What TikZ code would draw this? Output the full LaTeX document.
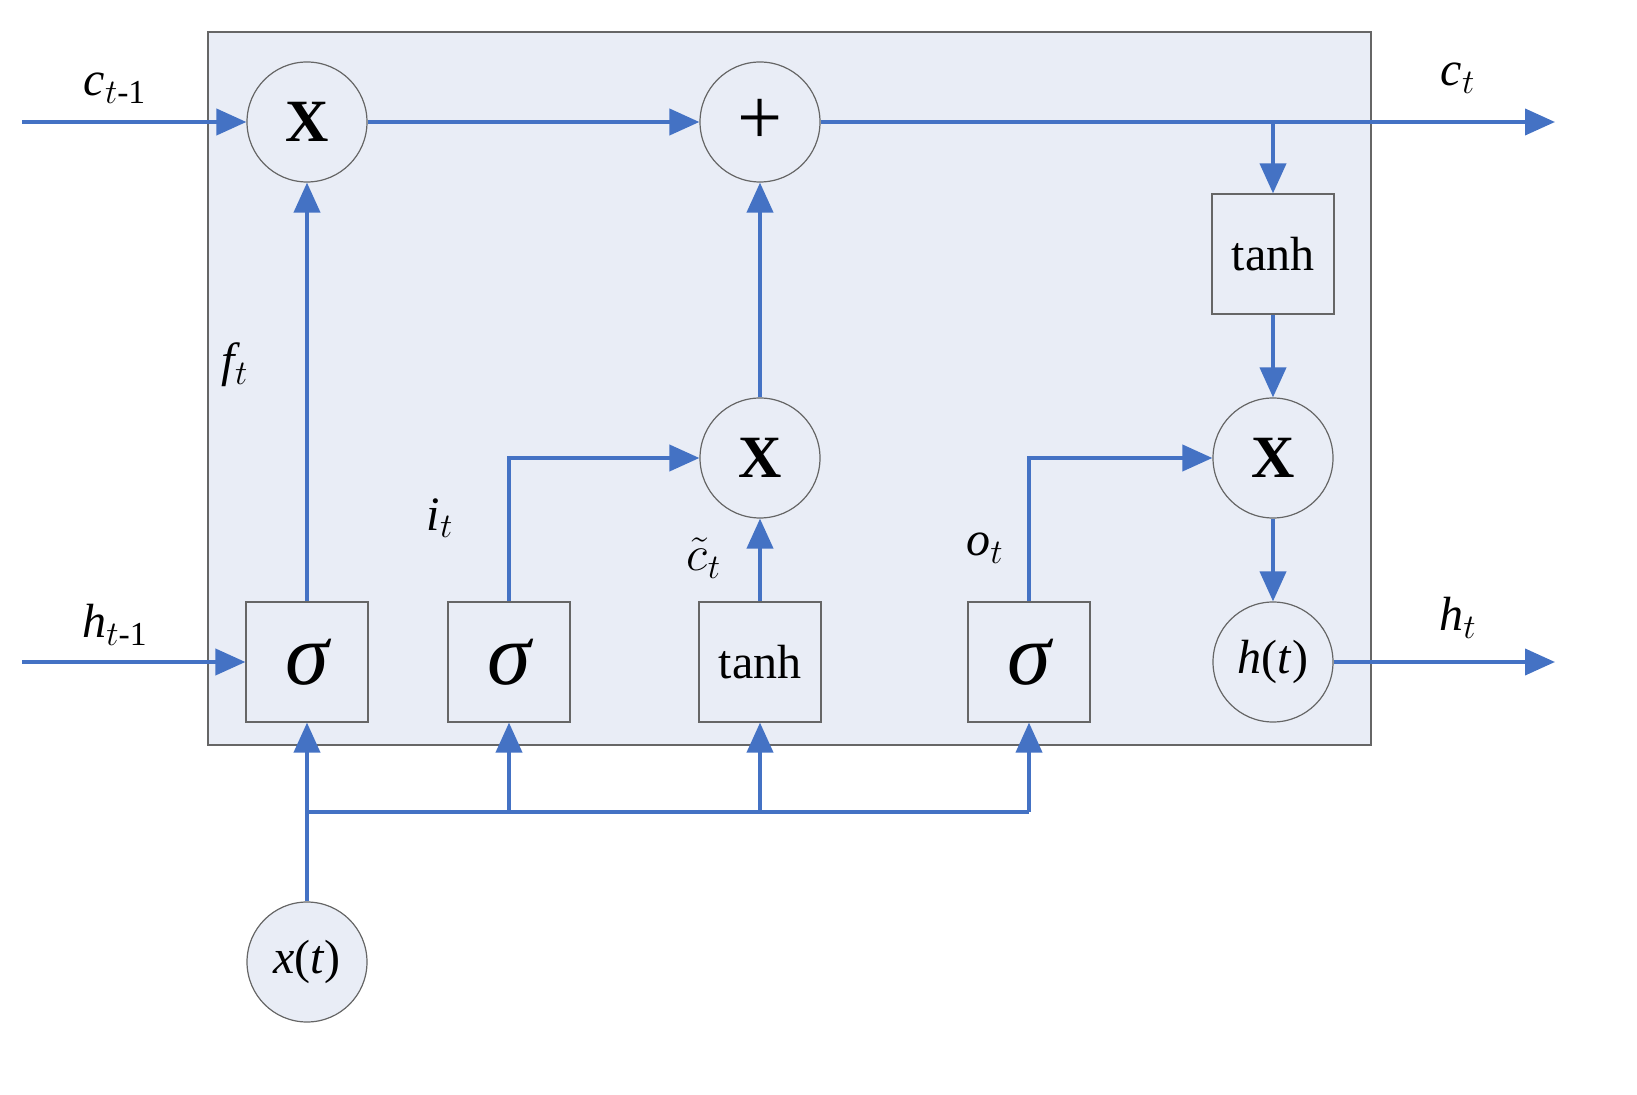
\documentclass[tikz,border=0pt]{standalone}
\usepackage{amsmath}
\usepackage{fontspec}
\setmainfont{Liberation Serif}
\usetikzlibrary{arrows.meta}
\definecolor{ab}{HTML}{4472C4}
\definecolor{bg}{HTML}{E9EDF6}
\begin{document}
\begin{tikzpicture}[x=0.5pt,y=-0.5pt,
  op/.style={circle,draw=gray!80!black,fill=bg,minimum size=60pt,inner sep=0pt,line width=0.6pt},
  bx/.style={rectangle,draw=gray!80!black,fill=bg,minimum width=61pt,minimum height=60pt,inner sep=0pt,line width=0.6pt},
  sg/.style={bx,font=\fontsize{44}{44}\selectfont\itshape},
  ar/.style={draw=ab,line width=2pt,-{Triangle[length=15pt,width=13pt]}},
  ln/.style={draw=ab,line width=2pt},
  lb/.style={font=\fontsize{24}{24}\selectfont\itshape}]
\useasboundingbox (0,0) rectangle (1637,1095);
\draw[fill=bg,draw=gray!80!black,line width=0.6pt] (208,32) rectangle (1371,745);
\node[op,font=\fontsize{30}{30}\selectfont\bfseries] (m1) at (307,122) {X};
\node[op,font=\fontsize{40}{40}\selectfont] (pl) at (760,122) {+};
\node[op,font=\fontsize{30}{30}\selectfont\bfseries] (m2) at (760,458) {X};
\node[op,font=\fontsize{30}{30}\selectfont\bfseries] (m3) at (1273,458) {X};
\node[op,font=\fontsize{24}{24}\selectfont] (ht) at (1273,662) {\textit{h}(\textit{t})};
\node[op,font=\fontsize{24}{24}\selectfont] (xt) at (307,962) {\textit{x}(\textit{t})};
\node[sg] (s1) at (307,662) {σ};
\node[sg] (s2) at (509,662) {σ};
\node[bx,font=\fontsize{24}{24}\selectfont] (th) at (760,662) {tanh};
\node[sg] (s3) at (1029,662) {σ};
\node[bx,font=\fontsize{24}{24}\selectfont] (tt) at (1273,254) {tanh};
\coordinate (cin) at (22,122); \coordinate (cout) at (1555,122);
\coordinate (hin) at (22,662); \coordinate (hout) at (1555,662);
\coordinate (br) at (1273,122);
\draw[ar] (cin) -- (m1);
\draw[ar] (m1) -- (pl);
\draw[ar] (pl) -- (cout);
\draw[ar] (br) -- (tt);
\draw[ar] (tt) -- (m3);
\draw[ar] (m3) -- (ht);
\draw[ar] (ht) -- (hout);
\draw[ar] (hin) -- (s1);
\draw[ar] (s1) -- (m1);
\draw[ar] (s2.north) |- (m2);
\draw[ar] (th) -- (m2);
\draw[ar] (m2) -- (pl);
\draw[ar] (s3.north) |- (m3);
\coordinate (b1) at (307,812); \coordinate (b4) at (1029,812);
\draw[ar] (xt) -- (s1);
\draw[ln] (b1) -- (b4);
\draw[ar] (509,812) -- (s2);
\draw[ar] (760,812) -- (th);
\draw[ar] (b4) -- (s3);
\node[lb] (l1) at (115,88) {c$_{t\text{\upshape -1}}$};
\node[lb] (l2) at (1458,78) {c$_t$};
\node[lb] (l3) at (235,365) {f$_t$};
\node[lb] (l4) at (440,518) {i$_t$};
\node[lb] (l5) at (704,558) {$\tilde{c}_t$};
\node[lb] (l6) at (985,548) {o$_t$};
\node[lb] (l7) at (115,625) {h$_{t\text{\upshape -1}}$};
\node[lb] (l8) at (1458,618) {h$_t$};
\end{tikzpicture}
\end{document}
